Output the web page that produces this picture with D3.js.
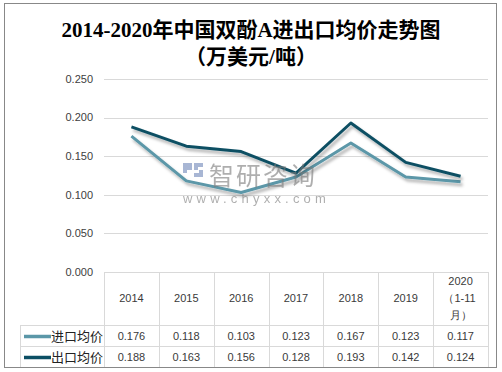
<!DOCTYPE html>
<html>
<head>
<meta charset="utf-8">
<script src="https://cdn.jsdelivr.net/npm/d3@7"></script>
<style>
  html, body { margin: 0; padding: 0; background: #fff; }
  svg { display: block; }
</style>
</head>
<body>
<svg id="chart"></svg>
<script>
// Data
const years = ['2014', '2015', '2016', '2017', '2018', '2019', '2020'];
const yearLabels = [['2014'], ['2015'], ['2016'], ['2017'], ['2018'], ['2019'], ['2020', '（1-11', '月）']];
const importPrice = [0.176, 0.118, 0.103, 0.123, 0.167, 0.123, 0.117];
const exportPrice = [0.188, 0.163, 0.156, 0.128, 0.193, 0.142, 0.124];
const seriesNames = ['进口均价', '出口均价'];
const seriesColors = ['#5b97a8', '#0c4f64'];
const yTicks = [0, 0.05, 0.1, 0.15, 0.2, 0.25];

const W = 502, H = 372;
const plot = { left: 104, right: 488, top: 79, bottom: 272 };
const rowH = [53, 21, 21];   // header row, import row, export row

const svg = d3.select('#chart').attr('width', W).attr('height', H);

// Shadow for lines
const defs = svg.append('defs');
const f = defs.append('filter').attr('id', 'shadow')
  .attr('x', '-10%').attr('y', '-20%').attr('width', '130%').attr('height', '150%');
f.append('feDropShadow').attr('dx', 2).attr('dy', 3).attr('stdDeviation', 1.5)
  .attr('flood-color', '#000').attr('flood-opacity', 0.3);

// Outer border
svg.append('rect')
  .attr('x', 4.5).attr('y', 3.5).attr('width', 492).attr('height', 364)
  .attr('fill', '#fff').attr('stroke', '#888').attr('stroke-width', 1);

// Title
const title = svg.append('text')
  .attr('text-anchor', 'middle')
  .style('font-family', '"Liberation Serif", "Noto Sans CJK SC", serif')
  .style('font-size', '21px')
  .style('font-weight', 'bold')
  .attr('fill', '#000');
title.append('tspan').attr('x', 251).attr('y', 37).text('2014-2020年中国双酚A进出口均价走势图');
title.append('tspan').attr('x', 251).attr('y', 64).text('（万美元/吨）');

// Scales
const x = d3.scaleBand().domain(years).range([plot.left, plot.right]);
const y = d3.scaleLinear().domain([0, 0.25]).range([plot.bottom, plot.top]);

// Gridlines
svg.append('g').selectAll('line')
  .data(yTicks.filter(d => d > 0))
  .enter().append('line')
  .attr('x1', plot.left).attr('x2', plot.right)
  .attr('y1', d => Math.round(y(d)) + 0.5).attr('y2', d => Math.round(y(d)) + 0.5)
  .attr('stroke', '#d9d9d9').attr('stroke-width', 1);

// Y axis labels
svg.append('g').selectAll('text')
  .data(yTicks)
  .enter().append('text')
  .attr('x', 93)
  .attr('y', d => y(d))
  .attr('dy', '0.35em')
  .attr('text-anchor', 'end')
  .style('font-family', '"Liberation Sans", Arial, sans-serif')
  .style('font-size', '11px')
  .attr('fill', '#404040')
  .text(d => d3.format('.3f')(d));

// Lines
const line = d3.line()
  .x((d, i) => x(years[i]) + x.bandwidth() / 2)
  .y(d => y(d));

[importPrice, exportPrice].forEach((series, k) => {
  svg.append('path')
    .datum(series)
    .attr('d', line)
    .attr('fill', 'none')
    .attr('stroke', seriesColors[k])
    .attr('stroke-width', 3)
    .attr('stroke-linejoin', 'round')
    .attr('filter', 'url(#shadow)');
});

// Watermark
const wm = svg.append('g').attr('opacity', 0.6);
wm.append('path')
  .attr('d', 'M183,163 h9 v7 h-5 v3 h-4 z M194,163 h9 v4 h-5 v3 h5 v7 h-9 v-4 h5 v-3 h-5 z')
  .attr('fill', '#6f86b8');
wm.append('text')
  .attr('x', 209).attr('y', 185)
  .style('font-family', '"Noto Sans CJK SC", sans-serif')
  .style('font-size', '25px')
  .style('letter-spacing', '2px')
  .attr('fill', '#7a7a7a')
  .text('智研咨询');
wm.append('text')
  .attr('x', 183).attr('y', 203)
  .style('font-family', '"Liberation Sans", Arial, sans-serif')
  .style('font-size', '13px')
  .style('letter-spacing', '4.2px')
  .attr('fill', '#7a7a7a')
  .text('www.chyxx.com');

// Data table
const tbl = svg.append('g');
const gridColor = '#d9d9d9';
const tTop = plot.bottom;
const r1 = tTop + rowH[0], r2 = r1 + rowH[1], r3 = r2 + rowH[2];
const legendLeft = 20;

// horizontal lines
tbl.append('line').attr('x1', plot.left).attr('x2', plot.right)
  .attr('y1', tTop + 0.5).attr('y2', tTop + 0.5).attr('stroke', gridColor);
[r1, r2].forEach(yy => {
  tbl.append('line').attr('x1', legendLeft).attr('x2', plot.right)
    .attr('y1', yy + 0.5).attr('y2', yy + 0.5).attr('stroke', gridColor);
});
// vertical lines
years.forEach(yr => {
  tbl.append('line')
    .attr('x1', Math.round(x(yr)) + 0.5).attr('x2', Math.round(x(yr)) + 0.5)
    .attr('y1', tTop).attr('y2', r3).attr('stroke', gridColor);
});
tbl.append('line').attr('x1', plot.right + 0.5).attr('x2', plot.right + 0.5)
  .attr('y1', tTop).attr('y2', r3).attr('stroke', gridColor);
tbl.append('line').attr('x1', legendLeft + 0.5).attr('x2', legendLeft + 0.5)
  .attr('y1', r1).attr('y2', r3).attr('stroke', gridColor);

const cellFont = '"Liberation Sans", Arial, sans-serif';

// header labels
years.forEach((yr, i) => {
  const lines = yearLabels[i];
  const cy = tTop + rowH[0] / 2;
  const lh = 17;
  lines.forEach((t, j) => {
    tbl.append('text')
      .attr('x', x(yr) + x.bandwidth() / 2 + (t.startsWith('（') ? -1 : 0))
      .attr('y', cy + (j - (lines.length - 1) / 2) * lh)
      .attr('dy', '0.35em')
      .attr('text-anchor', 'middle')
      .style('font-family', cellFont)
      .style('font-size', '11px')
      .attr('fill', '#3a3a3a')
      .text(t);
  });
});

// value rows
[importPrice, exportPrice].forEach((series, k) => {
  const rowTop = k === 0 ? r1 : r2;
  const cy = rowTop + rowH[k + 1] / 2 + 1;
  // legend key
  tbl.append('line')
    .attr('x1', 24).attr('x2', 51)
    .attr('y1', cy).attr('y2', cy)
    .attr('stroke', seriesColors[k]).attr('stroke-width', 3.5);
  tbl.append('text')
    .attr('x', 51).attr('y', cy).attr('dy', '0.35em')
    .style('font-family', '"Noto Sans CJK SC", sans-serif')
    .style('font-size', '13px')
    .attr('fill', '#222')
    .text(seriesNames[k]);
  series.forEach((v, i) => {
    tbl.append('text')
      .attr('x', x(years[i]) + x.bandwidth() / 2)
      .attr('y', cy).attr('dy', '0.35em')
      .attr('text-anchor', 'middle')
      .style('font-family', cellFont)
      .style('font-size', '11px')
      .attr('fill', '#3a3a3a')
      .text(d3.format('.3f')(v));
  });
});
</script>
</body>
</html>
